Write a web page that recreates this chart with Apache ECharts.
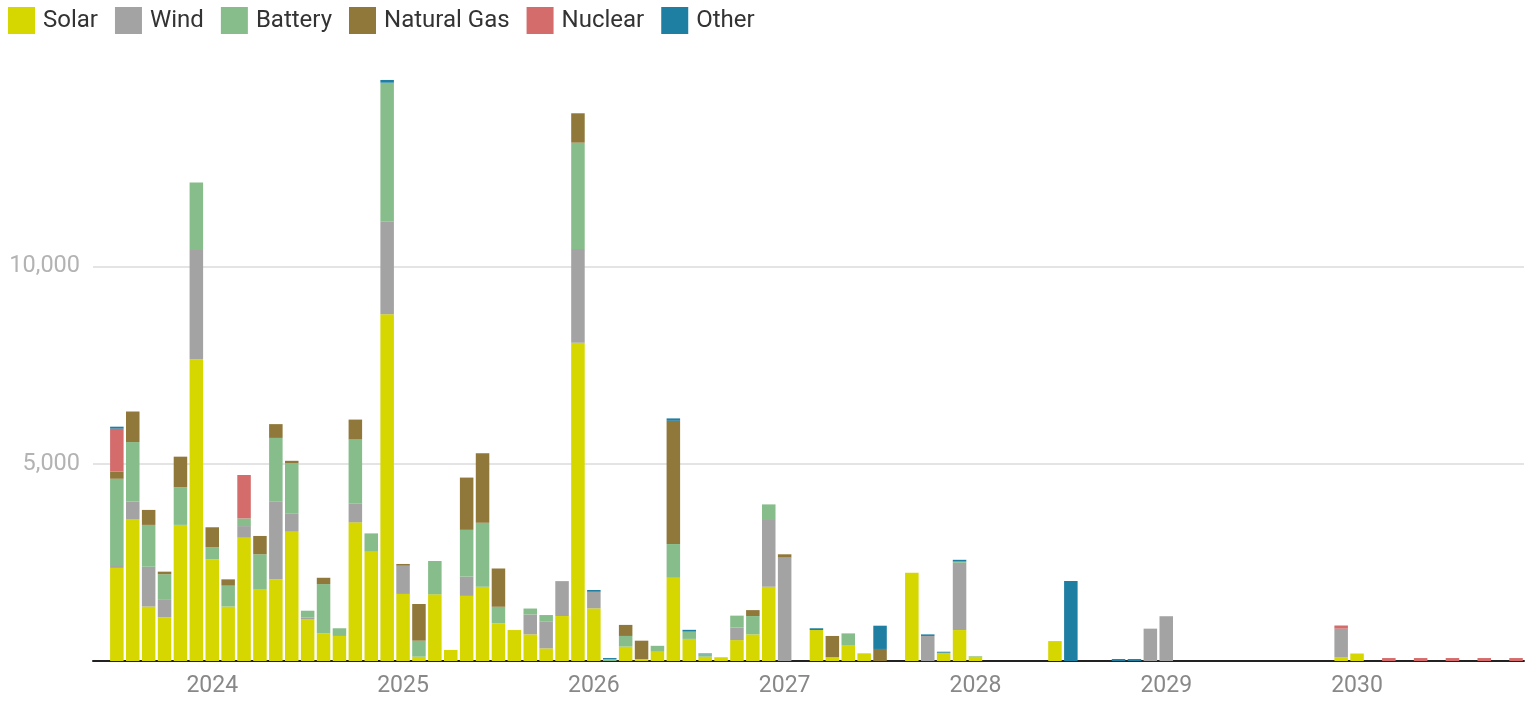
<!DOCTYPE html>
<html>
<head>
<meta charset="utf-8">
<script src="https://cdn.jsdelivr.net/npm/echarts@6/dist/echarts.min.js"></script>
<style>
html,body{margin:0;padding:0;background:#fff;}
#chart{width:1535px;height:701px;}
</style>
</head>
<body>
<div id="chart"></div>
<script>
// Months Jun 2023 .. Nov 2030
var months = [
  '2023-06','2023-07','2023-08','2023-09','2023-10','2023-11','2023-12',
  '2024-01','2024-02','2024-03','2024-04','2024-05','2024-06','2024-07','2024-08','2024-09','2024-10','2024-11','2024-12',
  '2025-01','2025-02','2025-03','2025-04','2025-05','2025-06','2025-07','2025-08','2025-09','2025-10','2025-11','2025-12',
  '2026-01','2026-02','2026-03','2026-04','2026-05','2026-06','2026-07','2026-08','2026-09','2026-10','2026-11','2026-12',
  '2027-01','2027-02','2027-03','2027-04','2027-05','2027-06','2027-07','2027-08','2027-09','2027-10','2027-11','2027-12',
  '2028-01','2028-02','2028-03','2028-04','2028-05','2028-06','2028-07','2028-08','2028-09','2028-10','2028-11','2028-12',
  '2029-01','2029-02','2029-03','2029-04','2029-05','2029-06','2029-07','2029-08','2029-09','2029-10','2029-11','2029-12',
  '2030-01','2030-02','2030-03','2030-04','2030-05','2030-06','2030-07','2030-08','2030-09','2030-10','2030-11'
];
var seriesNames = ['Solar','Wind','Battery','Natural Gas','Nuclear','Other'];
var seriesColors = ['#d6d600','#a3a3a3','#87bd8b','#8f783a','#d46c6c','#1f7fa2'];

var solar = [
  0,2360,3600,1380,1110,3450,7650,
  2580,1380,3125,1825,2070,3280,1065,700,635,3515,2770,8790,
  1700,110,1690,280,1650,1885,955,785,675,320,1140,8070,
  1335,0,365,50,235,2110,560,110,95,530,675,1885,
  0,0,785,95,405,195,0,0,2240,0,210,785,
  110,0,0,0,0,505,0,0,0,0,0,0,
  0,0,0,0,0,0,0,0,0,0,0,100,
  190,0,0,0,0,0,0,0,0,0,0
];
var wind = [
  0,50,440,1010,440,0,2770,
  0,0,295,0,1965,465,40,0,0,480,0,2345,
  715,0,0,0,490,0,0,0,505,675,885,2375,
  420,0,0,0,0,0,0,0,0,320,0,1690,
  2620,0,0,0,0,0,0,0,0,635,0,1705,
  0,0,0,0,0,0,0,0,0,0,0,820,
  1135,0,0,0,0,0,0,0,0,0,0,720,
  0,0,0,0,0,0,0,0,0,0,0
];
var battery = [
  0,2210,1510,1060,650,955,1710,
  305,530,195,880,1620,1270,170,1250,195,1620,465,3525,
  0,405,845,0,1185,1620,420,0,150,170,0,2695,
  0,50,270,0,150,855,185,60,0,300,465,395,
  0,0,0,0,295,0,0,0,0,0,0,30,
  15,0,0,0,0,0,0,0,0,0,0,0,
  0,0,0,0,0,0,0,0,0,0,0,0,
  0,0,0,0,0,0,0,0,0,0,0
];
var naturalGas = [
  0,180,775,380,65,775,0,
  505,160,0,465,350,60,0,160,0,505,0,0,
  45,930,0,0,1325,1760,970,0,0,0,0,745,
  0,0,280,465,0,3125,0,0,0,0,150,0,
  85,0,0,540,0,0,305,0,0,0,0,0,
  0,0,0,0,0,0,0,0,0,0,0,0,
  0,0,0,0,0,0,0,0,0,0,0,0,
  0,0,0,0,0,0,0,0,0,0,0
];
var nuclear = [
  0,1090,0,0,0,0,0,
  0,0,1100,0,0,0,0,0,0,0,0,0,
  0,0,0,0,0,0,0,0,0,0,0,0,
  0,0,0,0,0,0,0,0,0,0,0,0,
  0,0,0,0,0,0,0,0,0,0,0,0,
  0,0,0,0,0,0,0,0,0,0,0,0,
  0,0,0,0,0,0,0,0,0,0,0,80,
  0,0,75,0,75,0,75,0,75,0,75
];
var other = [
  0,50,0,0,0,0,0,
  0,0,0,0,0,0,0,0,0,0,0,70,
  0,0,0,0,0,0,0,0,0,0,0,0,
  45,25,0,0,0,60,45,20,0,0,0,0,
  0,0,45,0,0,0,590,0,0,40,25,45,
  0,0,0,0,0,0,2030,0,0,50,50,0,
  0,0,0,0,0,0,0,0,0,0,0,0,
  0,0,0,0,0,0,0,0,0,0,0
];
var yTicks = [0, 5000, 10000, 15000];

var dataList = [solar, wind, battery, naturalGas, nuclear, other];
var FONT = 'Roboto, "Noto Sans", sans-serif';

var chart = echarts.init(document.getElementById('chart'), null, {renderer: 'canvas'});
var series = seriesNames.map(function (n, i) {
  return {
    name: n,
    type: 'bar',
    stack: 'total',
    data: dataList[i],
    barCategoryGap: '15%',
    itemStyle: {color: seriesColors[i]},
    emphasis: {disabled: true}
  };
});

chart.setOption({
  animation: false,
  color: seriesColors,
  textStyle: {fontFamily: FONT},
  legend: {
    left: 8, top: 7, padding: 0,
    icon: 'rect',
    itemWidth: 27, itemHeight: 27, itemGap: 17,
    textStyle: {fontSize: 24, color: '#333', fontFamily: FONT, padding: [0, 0, 0, 3]},
    data: seriesNames
  },
  grid: {left: 93, right: 11, top: 69.3, bottom: 40, containLabel: false},
  xAxis: {
    type: 'category',
    data: months,
    boundaryGap: true,
    axisTick: {show: false},
    axisLine: {lineStyle: {color: '#222', width: 2}},
    axisLabel: {
      interval: function (idx, val) { return val.slice(5) === '01'; },
      formatter: function (val) { return val.slice(0, 4); },
      color: '#888', fontSize: 23, margin: 14, fontFamily: FONT
    },
    splitLine: {show: false}
  },
  yAxis: {
    type: 'value',
    min: yTicks[0], max: yTicks[yTicks.length - 1], interval: yTicks[1] - yTicks[0],
    axisLine: {show: false},
    axisTick: {show: false},
    axisLabel: {
      showMinLabel: false, showMaxLabel: false,
      color: '#b3b3b3', fontSize: 23.5, margin: 13, fontFamily: FONT,
      formatter: function (v) { return v.toLocaleString('en-US'); }
    },
    splitLine: {show: true, showMinLine: false, showMaxLine: false, lineStyle: {color: '#e4e4e4', width: 2}}
  },
  series: series
});
</script>
</body>
</html>
